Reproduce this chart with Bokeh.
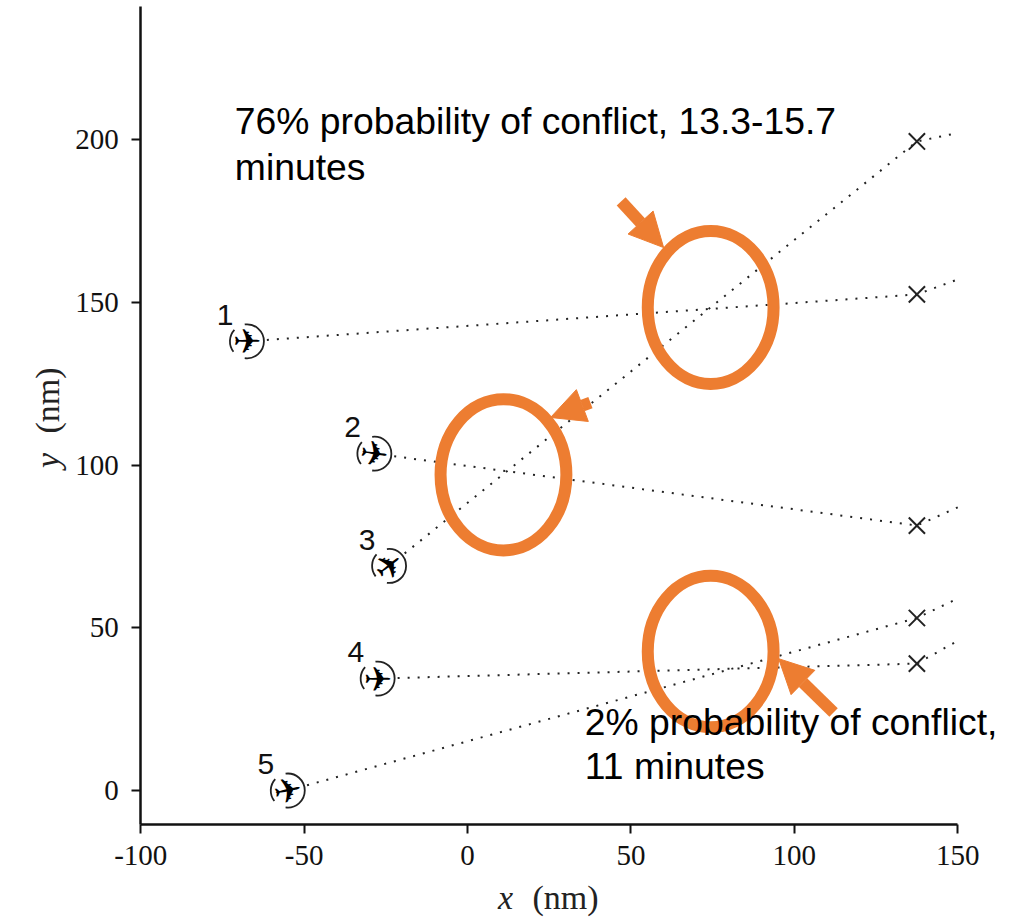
from bokeh.plotting import figure
from bokeh.embed import file_html
from bokeh.resources import INLINE
from bokeh.models import Arrow, NormalHead, Label, FixedTicker, Range1d, LinearAxis
from bokeh.core.properties import value

# Aircraft start positions, waypoints and track ends (nm)
plane_ids = ["1", "2", "3", "4", "5"]
plane_x = [-67.5, -28.5, -24.0, -27.5, -55.0]
plane_y = [138.0, 103.5, 69.0, 34.4, 0.0]
plane_heading = [0, -8, 38, 0, 12]
way_x = [137.5, 137.5, 137.5, 137.5, 137.5]
way_y = [152.4, 81.4, 199.4, 39.0, 53.0]
end_x = [150, 150, 150, 150, 150]
end_y = [157.0, 87.0, 202.0, 46.0, 59.0]
x_ticks = [-100, -50, 0, 50, 100, 150]
y_ticks = [0, 50, 100, 150, 200]
# Conflict ellipses
ell_x = [74.4, 11.0, 74.4]
ell_y = [148.4, 97.0, 42.7]
ell_w = [38.5, 38.5, 38.5]
ell_h = [47.0, 46.5, 46.5]
# Annotation arrows (tail -> tip)
arr_x0 = [47.0, 37.6, 112.0]
arr_y0 = [181.0, 119.2, 24.0]
arr_x1 = [60.0, 25.4, 95.2]
arr_y1 = [166.8, 114.6, 40.5]
notes = [("76% probability of conflict, 13.3-15.7", -71.2, 205.8), ("minutes", -71.2, 191.5),
         ("2% probability of conflict,", 35.9, 21.1), ("11 minutes", 35.9, 7.5)]

ORANGE = "#ed7d31"
p = figure(width=1020, height=917, output_backend="svg", toolbar_location=None,
           x_range=Range1d(-142.9, 169.2), y_range=Range1d(-39.0, 242.7),
           x_axis_location=None, y_axis_location=None,
           min_border_left=0, min_border_right=0, min_border_top=0, min_border_bottom=0)
p.grid.visible = False
p.outline_line_color = None
xax = LinearAxis(fixed_location=-10.4, bounds=(-100, 150))
yax = LinearAxis(fixed_location=-100, bounds=(-10.4, 240.9))
p.add_layout(xax, "below")
p.add_layout(yax, "left")
for ax, ticks in ((xax, x_ticks), (yax, y_ticks)):
    ax.ticker = FixedTicker(ticks=ticks)
    ax.axis_line_width = 2.5
    ax.axis_line_color = "#111111"
    ax.major_tick_line_width = 2
    ax.major_tick_line_color = "#111111"
    ax.major_tick_in = 0
    ax.major_tick_out = 9
    ax.minor_tick_line_color = None
    ax.major_label_text_font = "Liberation Serif"
    ax.major_label_text_font_size = "29px"
    ax.major_label_text_color = "#111111"
xax.major_label_overrides = {-100: "-100", -50: "-50"}
xax.major_label_standoff = 13
yax.major_label_standoff = 13

# Tracks
for i in range(5):
    p.line([plane_x[i], way_x[i], end_x[i]], [plane_y[i], way_y[i], end_y[i]],
           line_color="#222222", line_width=2, line_dash="2 8")

# Waypoints
p.scatter(way_x, way_y, marker="x", size=23, line_color="#222222", line_width=2)

# Aircraft
p.circle(plane_x, plane_y, radius=17, radius_units="screen", fill_color="white", line_color=None)
p.arc(plane_x, plane_y, radius=17, radius_units="screen", start_angle=-1.7, end_angle=1.7,
      line_color="#222222", line_width=1.8)
p.arc(plane_x, plane_y, radius=17, radius_units="screen", start_angle=2.4, end_angle=3.8,
      line_color="#222222", line_width=1.8)
p.text(plane_x, plane_y, text=["\u2708"] * 5, angle=[a * 3.14159 / 180 for a in plane_heading],
       text_align="center", text_baseline="middle", text_font=value("DejaVu Sans"),
       text_font_size="34px", text_font_style="bold", text_color="black")
p.text([px - 6.7 for px in plane_x], [py + 8.1 for py in plane_y], text=plane_ids,
       text_align="center", text_baseline="middle", text_font=value("Liberation Sans"),
       text_font_size="30px", text_color="#111111")

# Ellipses
p.ellipse(ell_x, ell_y, width=ell_w, height=ell_h, fill_color=None, line_color=ORANGE, line_width=12)

# Arrows
for i in range(3):
    p.add_layout(Arrow(end=NormalHead(size=34, fill_color=ORANGE, line_color=ORANGE),
                       x_start=arr_x0[i], y_start=arr_y0[i], x_end=arr_x1[i], y_end=arr_y1[i],
                       line_color=ORANGE, line_width=12))

# Notes
for t, x, y in notes:
    p.add_layout(Label(x=x, y=y, text=t, text_font="Liberation Sans", text_font_size="37.3px",
                       text_color="black", text_align="left", text_baseline="middle"))

# Axis titles
p.add_layout(Label(x=11.6, y=-33, text="x", text_font="Liberation Serif", text_font_style="italic",
                   text_font_size="34px", text_color="#222222", text_align="center", text_baseline="middle"))
p.add_layout(Label(x=30, y=-33, text="(nm)", text_font="Liberation Serif",
                   text_font_size="34px", text_color="#222222", text_align="center", text_baseline="middle"))
p.add_layout(Label(x=-128.4, y=101.4, text="y", text_font="Liberation Serif", text_font_style="italic", angle=1.5708,
                   text_font_size="34px", text_color="#222222", text_align="center", text_baseline="middle"))
p.add_layout(Label(x=-128.4, y=119.8, text="(nm)", text_font="Liberation Serif", angle=1.5708,
                   text_font_size="34px", text_color="#222222", text_align="center", text_baseline="middle"))

open("out.html", "w").write(file_html(p, INLINE))
